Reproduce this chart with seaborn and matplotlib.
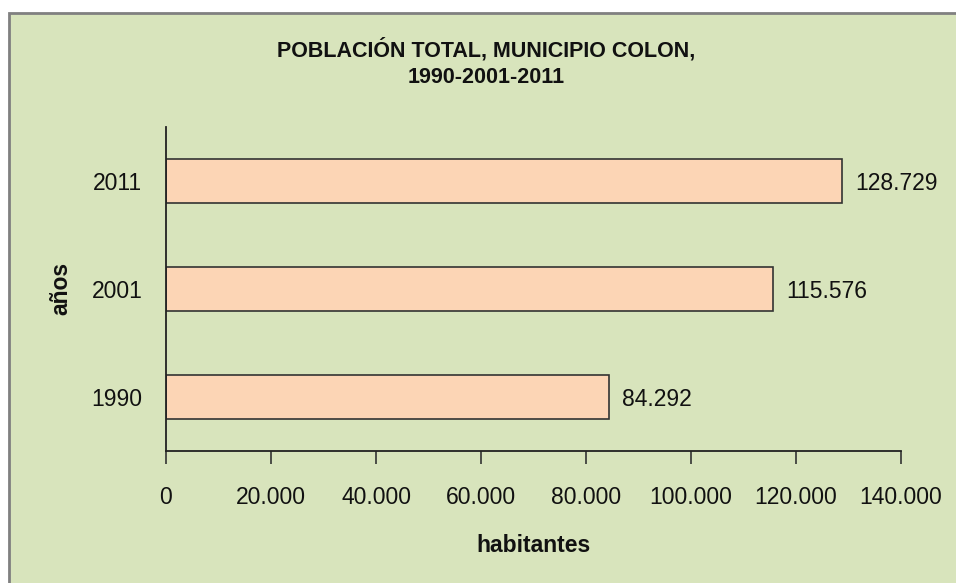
import matplotlib
matplotlib.use("Agg")
import matplotlib.pyplot as plt
from matplotlib import font_manager
from matplotlib.patches import Rectangle
from matplotlib.ticker import FuncFormatter
import seaborn as sns
import pandas as pd

years = ["1990", "2001", "2011"]
population = [84292, 115576, 128729]
year_order = ["2011", "2001", "1990"]
title = "POBLACIÓN TOTAL, MUNICIPIO COLON,\n1990-2001-2011"
x_label = "habitantes"
y_label = "años"

sns.set_theme(style="white")
available = {f.name for f in font_manager.fontManager.ttflist}
family = "Liberation Sans Narrow" if "Liberation Sans Narrow" in available else "Liberation Sans"
plt.rcParams["font.family"] = [family, "DejaVu Sans"]

def dotted(v):
    return f"{int(round(v)):,}".replace(",", ".")

df = pd.DataFrame({"year": years, "population": population})

BG = "#D8E4BC"
FS = 16.5
fig = plt.figure(figsize=(9.56, 5.83), dpi=100, facecolor="white")
# chart area panel with a gray frame on the top and left
fig.patches.append(Rectangle((9 / 956, -0.05), 1.1, (583 - 13) / 583 + 0.05,
                             transform=fig.transFigure, facecolor=BG,
                             edgecolor="#808080", linewidth=2.0, zorder=-10))

ax = fig.add_axes([166 / 956, 132 / 583, (901 - 166) / 956, (451 - 127) / 583])
ax.patch.set_alpha(0)

sns.barplot(data=df, x="population", y="year", order=year_order, orient="h",
            color="#FCD5B5", edgecolor="#333333", linewidth=1.2, width=0.4,
            saturation=1, ax=ax)

ax.set_xlim(0, 140000)
ax.set_ylim(2.5, -0.5)
ax.set_xticks(range(0, 140001, 20000))
ax.xaxis.set_major_formatter(FuncFormatter(lambda v, p: dotted(v)))

for c in ax.containers:
    for t in ax.bar_label(c, labels=[dotted(b.get_width()) for b in c],
                          padding=10, fontsize=FS, color="#111111"):
        t.set_va("center_baseline")

for s in ["top", "right"]:
    ax.spines[s].set_visible(False)
for s in ["left", "bottom"]:
    ax.spines[s].set_color("#222222")
    ax.spines[s].set_linewidth(1.3)

ax.tick_params(axis="x", bottom=True, direction="out", length=9, width=1.2,
               color="#333333", pad=16, labelsize=FS, labelcolor="#111111")
ax.tick_params(axis="y", left=False, length=0, pad=17, labelsize=FS,
               labelcolor="#111111")
for t in ax.get_yticklabels():
    t.set_va("center_baseline")
ax.set_xlabel("")
ax.set_ylabel("")

fig.text(534 / 956, 1 - 545 / 583, x_label, ha="center", va="center",
         fontsize=FS, fontweight="bold", color="#111111")
fig.text(61 / 956, 1 - 288 / 583, y_label, ha="center", va="center",
         rotation=90, fontsize=FS, fontweight="bold", color="#111111")
fig.text(486 / 956, 1 - 63 / 583, title, ha="center", va="center",
         fontsize=15.5, fontweight="bold", color="#111111", linespacing=1.3)

fig.savefig("out.png", dpi=100, facecolor="white")
